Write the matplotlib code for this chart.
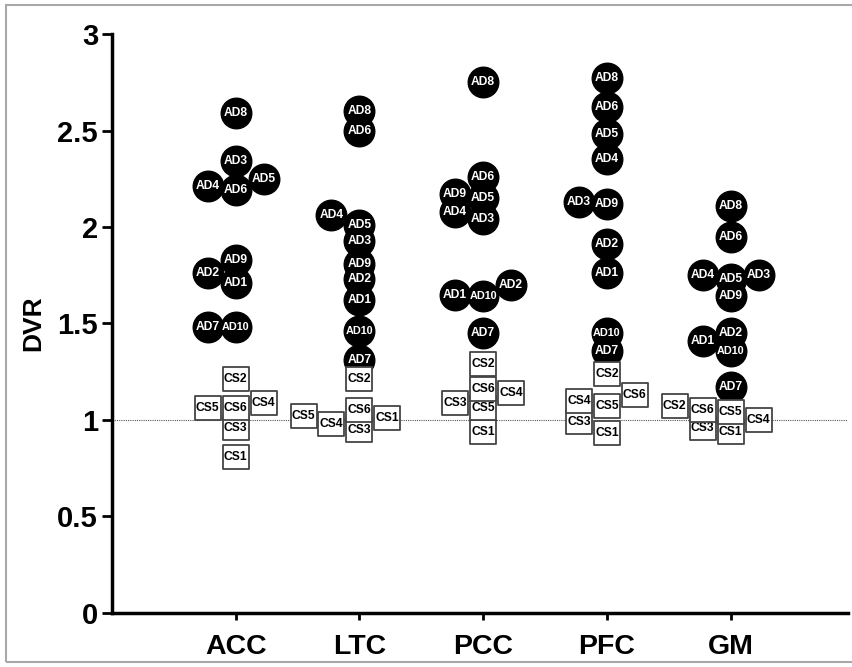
import numpy as np
import matplotlib.pyplot as plt
from matplotlib.path import Path
from matplotlib.patches import Rectangle

plt.rcParams['font.family'] = ['Liberation Sans', 'DejaVu Sans']
plt.rcParams['font.weight'] = 'bold'
plt.rcParams['axes.labelweight'] = 'bold'

# 数据
groups = ['ACC', 'LTC', 'PCC', 'PFC', 'GM']
ad_names = ['AD1', 'AD2', 'AD3', 'AD4', 'AD5', 'AD6', 'AD7', 'AD8', 'AD9', 'AD10']
cs_names = ['CS1', 'CS2', 'CS3', 'CS4', 'CS5', 'CS6']

ad_acc = [1.71, 1.76, 2.34, 2.21, 2.25, 2.19, 1.48, 2.59, 1.83, 1.48]
ad_ltc = [1.62, 1.73, 1.93, 2.06, 2.01, 2.50, 1.31, 2.60, 1.81, 1.46]
ad_pcc = [1.65, 1.70, 2.04, 2.08, 2.15, 2.26, 1.45, 2.75, 2.17, 1.64]
ad_pfc = [1.76, 1.91, 2.13, 2.35, 2.48, 2.62, 1.36, 2.77, 2.12, 1.45]
ad_gm = [1.41, 1.45, 1.75, 1.75, 1.73, 1.95, 1.17, 2.11, 1.64, 1.36]

cs_acc = [0.81, 1.21, 0.96, 1.09, 1.06, 1.06]
cs_ltc = [1.01, 1.21, 0.95, 0.98, 1.02, 1.05]
cs_pcc = [0.94, 1.29, 1.09, 1.14, 1.06, 1.16]
cs_pfc = [0.93, 1.24, 0.99, 1.10, 1.07, 1.13]
cs_gm = [0.94, 1.07, 0.96, 1.00, 1.04, 1.05]

# 散点的横向错位 (列)
ad_col = [[0, -1, 0, -1, 1, 0, -1, 0, 0, 0],
          [0, 0, 0, -1, 0, 0, 0, 0, 0, 0],
          [-1, 1, 0, -1, 0, 0, 0, 0, -1, 0],
          [0, 0, -1, 0, 0, 0, 0, 0, 0, 0],
          [-1, 0, 1, -1, 0, 0, 0, 0, 0, 0]]
cs_col = [[0, 0, 0, 1, -1, 0],
          [1, 0, 0, -1, -2, 0],
          [0, 0, -1, 1, 0, 0],
          [0, 0, -1, -1, 0, 1],
          [0, -2, -1, 1, 0, -1]]

ad_all = [ad_acc, ad_ltc, ad_pcc, ad_pfc, ad_gm]
cs_all = [cs_acc, cs_ltc, cs_pcc, cs_pfc, cs_gm]

step = 0.226
rect = Path([(-0.5, -0.44), (0.5, -0.44), (0.5, 0.44), (-0.5, 0.44), (-0.5, -0.44)],
            [Path.MOVETO, Path.LINETO, Path.LINETO, Path.LINETO, Path.CLOSEPOLY])

fig = plt.figure(figsize=(8.53, 6.67), dpi=100)
ax = fig.add_axes([0.1313, 0.081, 0.863, 0.868])

ax.axhline(1, color='#555555', lw=0.8, ls=(0, (1, 1)), zorder=1)

# AD: 先画圆, 再写字
for i, g in enumerate(groups):
    xs = [i + 1 + c * step for c in ad_col[i]]
    ax.scatter(xs, ad_all[i], s=22**2, color='black', zorder=2, clip_on=False)
    for name, x, v in zip(ad_names, xs, ad_all[i]):
        fs = 7.8 if name == 'AD10' else 8.7
        ax.text(x, v, name, color='white', fontsize=fs, ha='center', va='center', zorder=3)

# CS: 方框
z = 4
for i, g in enumerate(groups):
    xs = [i + 1 + c * step for c in cs_col[i]]
    for name, x, v in zip(cs_names, xs, cs_all[i]):
        ax.scatter([x], [v], s=19**2, marker=rect, facecolor='white',
                   edgecolor='#444444', linewidth=1.3, zorder=z)
        ax.text(x, v, name, color='black', fontsize=8.7, ha='center', va='center',
                zorder=z + 0.5)
        z += 1

ax.set_xlim(0, 5.95)
ax.set_ylim(0, 3)
ax.set_xticks(range(1, 6))
ax.set_xticklabels(groups, fontsize=20.5)
ax.set_yticks([0, 0.5, 1, 1.5, 2, 2.5, 3])
ax.set_yticklabels(['0', '0.5', '1', '1.5', '2', '2.5', '3'], fontsize=21)
ax.set_ylabel('DVR', fontsize=19, labelpad=9)

ax.spines['top'].set_visible(False)
ax.spines['right'].set_visible(False)
ax.spines['left'].set_linewidth(2.5)
ax.spines['bottom'].set_linewidth(2.5)
ax.tick_params(axis='y', length=7, width=2, pad=3)
ax.tick_params(axis='x', length=5, width=2, pad=10)

fig.add_artist(Rectangle((0.007, 0.008), 1.2, 0.985, transform=fig.transFigure,
                         fill=False, edgecolor='#a8a8a8', lw=1.5))

fig.savefig('out.png', dpi=100)
